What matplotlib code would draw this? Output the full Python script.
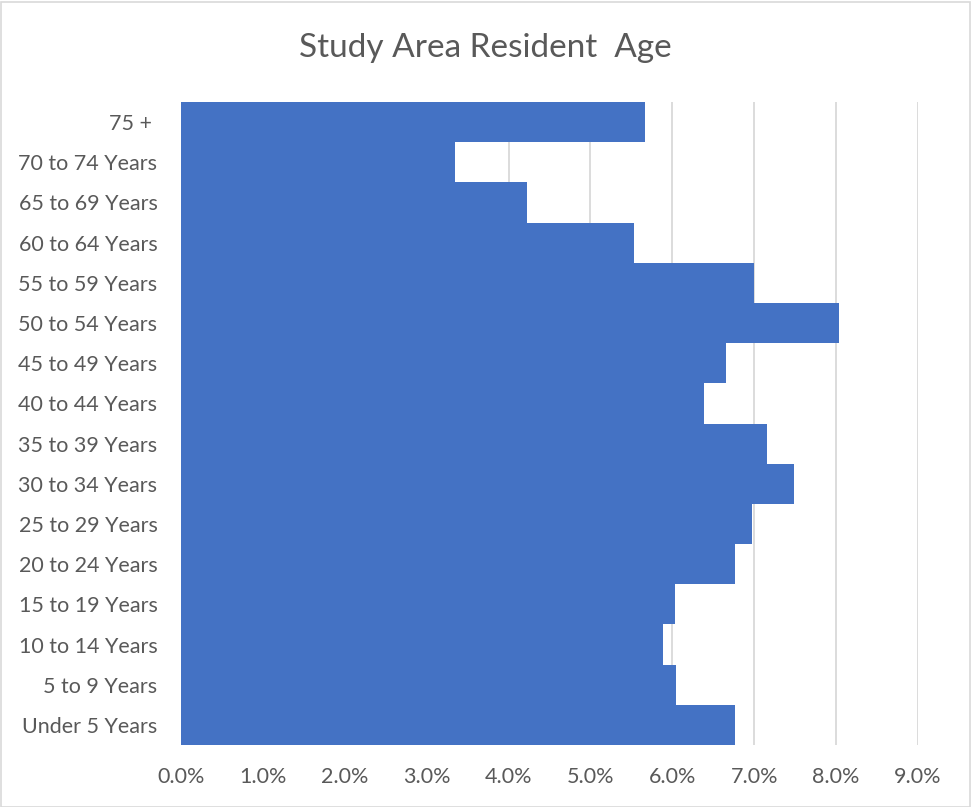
import matplotlib
matplotlib.use("Agg")
import matplotlib.pyplot as plt
from matplotlib.patches import Rectangle
from matplotlib.ticker import FuncFormatter, MultipleLocator

age_groups = [
    "Under 5 Years", "5 to 9 Years", "10 to 14 Years", "15 to 19 Years",
    "20 to 24 Years", "25 to 29 Years", "30 to 34 Years", "35 to 39 Years",
    "40 to 44 Years", "45 to 49 Years", "50 to 54 Years", "55 to 59 Years",
    "60 to 64 Years", "65 to 69 Years", "70 to 74 Years", "75 + ",
]
share_pct = [6.76, 6.04, 5.89, 6.03, 6.77, 6.97, 7.49, 7.15,
             6.39, 6.65, 8.03, 7.00, 5.53, 4.22, 3.35, 5.67]

plt.rcParams["font.family"] = ["Lato", "DejaVu Sans"]
text_color = "#595959"

fig = plt.figure(figsize=(9.71, 8.07), dpi=100)
ax = fig.add_axes([181 / 971, 62 / 807, 737 / 971, 643 / 807])

ypos = list(range(len(age_groups)))
ax.barh(ypos, share_pct, height=1.0, color="#4472C4",
        linewidth=0, antialiased=False, zorder=3)

ax.set_xlim(0, 9)
ax.set_ylim(-0.5, len(age_groups) - 0.5)
ax.xaxis.set_major_locator(MultipleLocator(1))
ax.xaxis.set_major_formatter(FuncFormatter(lambda v, p: f"{v:.1f}%"))
ax.set_yticks(ypos)
ax.set_yticklabels(age_groups)
ax.grid(axis="x", color="#D9D9D9", linewidth=1.3, zorder=0)
ax.set_axisbelow(True)
for s in ax.spines.values():
    s.set_visible(False)
ax.tick_params(axis="both", length=0, labelsize=15.5, colors=text_color)
ax.tick_params(axis="x", pad=16)
ax.tick_params(axis="y", pad=17)

fig.text(0.5, 1 - 48 / 807, "Study Area Resident  Age", ha="center", va="center",
         fontsize=24, color=text_color)

fig.patches.append(Rectangle((0.5 / 971, 0.5 / 807), 969 / 971, 805 / 807,
                             transform=fig.transFigure, fill=False,
                             edgecolor="#D9D9D9", linewidth=1.2))

fig.savefig("out.png", dpi=100, facecolor="white")
